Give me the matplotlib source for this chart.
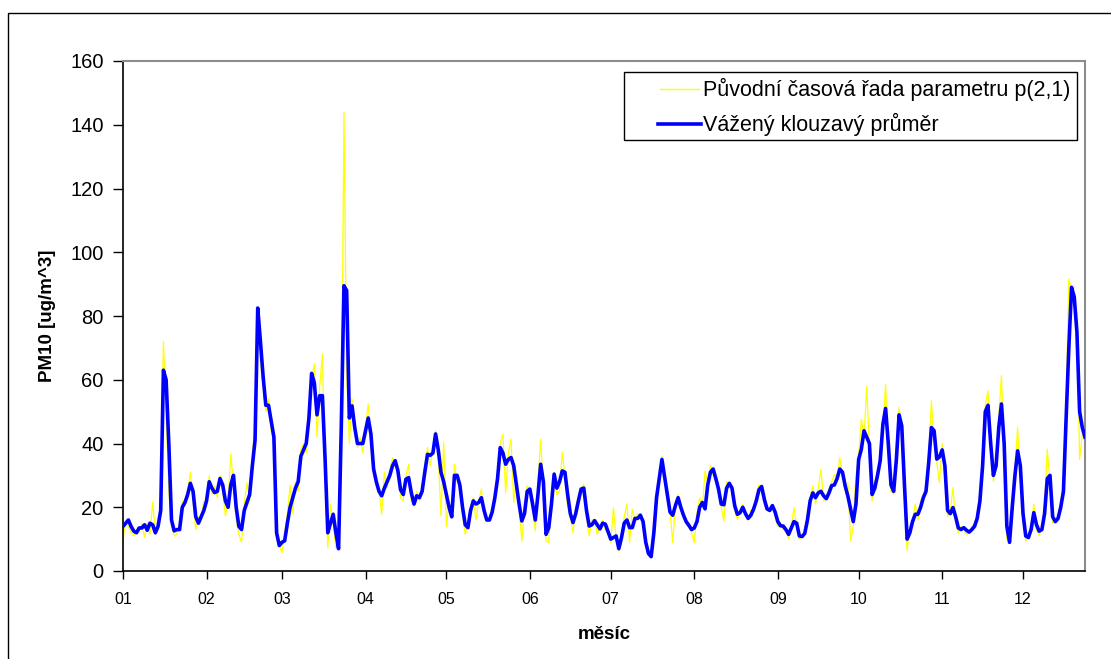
import matplotlib
matplotlib.use("Agg")
import matplotlib.pyplot as plt
from matplotlib.patches import Rectangle
from matplotlib.lines import Line2D

plt.rcParams['font.family'] = ['Liberation Sans', 'DejaVu Sans']

# Daily values (day index 0 = 1 Jan)
smoothed = [
    14, 15, 16, 14, 12.5, 12, 13.5, 13.5, 14.5, 12.8, 15, 14.5, 12, 14, 19, 63, 60, 40, 16, 12.6,
    13, 13, 20, 21.5, 24, 27.5, 25, 17, 15, 17, 19, 22, 28, 26, 24.6, 25, 29, 27, 22, 20,
    27, 30, 20, 14, 13, 19, 21.5, 24, 33, 41, 82.5, 72, 61, 52, 52, 47, 42, 12, 8, 9,
    9.5, 15, 20, 23, 26, 28, 36, 38, 40, 48, 62, 59, 49, 55, 55, 35, 12, 15, 17.8, 12,
    7, 45, 89.5, 88, 48, 51.8, 45, 40, 40, 40, 44, 48, 43, 32, 28, 25, 23.6, 26, 28, 30,
    33, 34.6, 31.5, 25.5, 24, 28.8, 29.3, 24.5, 21, 23.6, 23, 25, 31, 36.6, 36.3, 37, 43, 38, 31, 28,
    24, 20, 17, 30, 30, 27, 20, 14.5, 13.6, 19, 22, 21, 21.5, 23, 19, 16, 16, 18.5, 23, 29,
    38.7, 37, 33.5, 35, 35.6, 33, 27, 21, 15.7, 18, 25, 25.7, 21, 16, 24, 33.5, 28, 11.5, 13.6, 21,
    30.4, 26, 28, 31.4, 31, 24, 18, 15.2, 18, 22, 25.7, 26, 19, 14.1, 14.5, 15.8, 14.5, 13.2, 15, 14.7,
    12.4, 10, 10.5, 11, 7, 10.5, 15, 16, 13.6, 13.6, 16.5, 16.5, 17.5, 15.5, 9, 5.5, 4.5, 12, 23, 29,
    35, 29.5, 24, 18.5, 17.5, 20.5, 23, 20, 17.5, 15.5, 14.3, 13, 13.5, 15.5, 20, 21.5, 19.5, 27, 31, 32,
    29, 25.7, 21, 20.8, 26, 27.5, 26, 20.5, 17.8, 18.3, 20, 18, 16.5, 17.5, 19.4, 22, 25.5, 26.5, 22.5, 19.5,
    19, 20.5, 18.5, 15.5, 14.2, 14.1, 13, 11.5, 13.5, 15.5, 15, 11, 10.8, 11.8, 16, 22, 24.5, 23, 24.5, 25,
    23.6, 22.7, 24.5, 26.8, 27, 29, 32, 31, 26.7, 23.5, 19.5, 15.5, 21, 35, 38.2, 44, 42, 40, 24, 26,
    30, 34.6, 46, 51, 40, 27, 25, 35, 49, 45.5, 27, 10, 12, 15.5, 17.8, 17.8, 20, 23, 25, 34,
    45, 44, 35.1, 35.8, 38, 33, 19, 18, 19.9, 17, 13.5, 13, 13.6, 12.8, 12.2, 13, 14, 16.5, 22, 33,
    50, 52, 40, 30, 33, 45, 52.4, 40, 14, 9, 20, 30, 37.7, 33, 18, 11, 10.5, 13, 18.3, 14.5,
    12.5, 13, 18, 29, 30, 17, 15.5, 16.5, 20, 25, 48, 70, 89, 86, 75, 50, 45, 42,
]

original = [
    10, 15, 14, 12, 11, 13, 12, 15, 10.5, 15, 11.5, 21.5, 12.6, 13, 22, 72, 50, 25, 14, 11,
    11.5, 15, 22, 20, 25, 31, 22, 13, 17, 16, 22, 20, 30, 24, 26.7, 23, 30, 25, 17.3, 22,
    36.6, 27, 16, 11.5, 9, 21, 27.7, 22, 37, 45, 80, 66, 58, 50, 54, 44, 40, 10, 8, 5.8,
    12, 18, 27, 18, 28, 25, 38, 40, 37, 52, 60, 65, 42, 58, 68, 30, 7.3, 21, 15, 7.3,
    10, 35, 144, 62, 40, 54, 45, 38.7, 42, 37, 45, 52.4, 40, 30, 28, 25, 17.8, 31, 26, 31,
    35.6, 33, 33, 23, 22, 30, 33.5, 22, 20.4, 25, 22, 26, 33, 38.7, 33, 38, 44, 36, 17.3, 40.3,
    14, 22, 18, 33.5, 28, 26, 18, 11.5, 15, 20, 23, 16, 22, 25.7, 17, 15.7, 17, 20, 24, 30,
    40, 43, 24.6, 37, 41.4, 21.5, 30, 20, 9.4, 20, 26.7, 25, 20, 12.6, 28, 41.4, 25, 9.4, 8.9, 24,
    31, 24, 25, 37.2, 30, 20, 17, 12, 20, 24, 26, 27.2, 17, 11, 16, 16.2, 11.5, 14, 16, 13,
    12, 8.9, 19.9, 10, 6.3, 12, 17, 21, 8.9, 19.4, 16, 18, 18, 14, 8, 5, 4.2, 13, 25, 30,
    36, 28, 22, 18.8, 8.9, 21, 24, 19, 17, 14.7, 15, 12, 8.9, 18, 23, 20, 31.4, 28, 33, 30,
    28, 26, 20, 15.7, 28, 27.7, 25, 19, 16.2, 19, 21, 17, 16, 19, 20, 23, 27, 25, 21, 19,
    20, 21, 17, 14, 15, 13, 13, 10, 14, 19.9, 14, 10, 11, 12, 18, 23, 26.7, 21, 26, 31.9,
    22, 23, 26, 28, 30.4, 29, 35.6, 30, 25, 27.7, 9.4, 14, 30, 36, 47.6, 42, 58, 38, 22, 28,
    31, 35, 45, 58.6, 36, 25, 24, 38, 51.3, 44, 22, 6.3, 14, 16, 21, 16, 22, 24, 26, 36,
    53.4, 40, 34, 27.7, 40, 30, 17, 19, 26.2, 15, 12, 14, 13, 11.5, 12, 14, 15, 18, 24, 35,
    52, 56.5, 38, 28, 35, 48, 61.3, 36, 10, 9, 24, 32, 45, 30, 16, 9.4, 11, 14, 21, 13,
    11, 14, 20, 38.2, 28, 15, 16, 17, 22, 27, 52, 91.6, 88, 84, 81, 35, 43, 41,
]

month_start_days = [0, 31, 59, 90, 120, 151, 181, 212, 243, 273, 304, 334]
month_labels = ['01', '02', '03', '04', '05', '06', '07', '08', '09', '10', '11', '12']
y_ticks = [0, 20, 40, 60, 80, 100, 120, 140, 160]

label_original = 'Původní časová řada parametru p(2,1)'
label_smoothed = 'Vážený klouzavý průměr'

W, H = 1111, 659
fig = plt.figure(figsize=(W / 100, H / 100), dpi=100)
fig.patch.set_facecolor('white')


def fx(px):
    return px / W


def fy(py):
    return 1 - py / H


# outer chart frame (only left and top visible)
fig.patches.append(Rectangle((fx(8), -0.1), 1.2, fy(13) + 0.1, transform=fig.transFigure,
                             fill=False, edgecolor='black', linewidth=1.0))

left, right, top, bottom = 123, 1085, 61, 571
ax = fig.add_axes([fx(left), fy(bottom), (right - left) / W, (bottom - top) / H])

days = list(range(len(original)))
ax.plot(days, original, color='#ffff00', linewidth=0.9, zorder=2)
ax.plot(days, smoothed, color='#0000ff', linewidth=2.6, zorder=3, solid_joinstyle='round')

ax.set_xlim(0, len(original) - 1)
ax.set_ylim(0, 160)
ax.set_xticks(month_start_days)
ax.set_xticklabels(month_labels, fontsize=11.5)
ax.set_yticks(y_ticks)
ax.set_yticklabels([str(v) for v in y_ticks], fontsize=14.5)
ax.tick_params(axis='x', direction='out', length=6, width=1, pad=9, colors='black')
ax.tick_params(axis='y', direction='out', length=7, width=1, pad=7, colors='black')

for s in ['left', 'bottom']:
    ax.spines[s].set_color('black')
    ax.spines[s].set_linewidth(1.2)
for s in ['top', 'right']:
    ax.spines[s].set_color('#8c8c8c')
    ax.spines[s].set_linewidth(1.5)

ax.set_xlabel('měsíc', fontsize=13.5, fontweight='bold', labelpad=14)
ax.set_ylabel('PM10 [ug/m^3]', fontsize=13.5, fontweight='bold', labelpad=10)

# legend box drawn in figure pixel coordinates
fig.patches.append(Rectangle((fx(624), fy(140)), (1077 - 624) / W, (140 - 72) / H,
                             transform=fig.transFigure, facecolor='white', edgecolor='black',
                             linewidth=1.0, zorder=5))
fig.lines.append(Line2D([fx(660), fx(699)], [fy(89), fy(89)], transform=fig.transFigure,
                        color='#ffff00', linewidth=1.0, zorder=6))
fig.lines.append(Line2D([fx(658), fx(701)], [fy(124), fy(124)], transform=fig.transFigure,
                        color='#0000ff', linewidth=2.6, zorder=6))
fig.text(fx(703), fy(89), label_original, fontsize=15.5, va='center', ha='left', zorder=7)
fig.text(fx(703), fy(124), label_smoothed, fontsize=15.5, va='center', ha='left', zorder=7)

fig.savefig('out.png', dpi=100, facecolor='white')
